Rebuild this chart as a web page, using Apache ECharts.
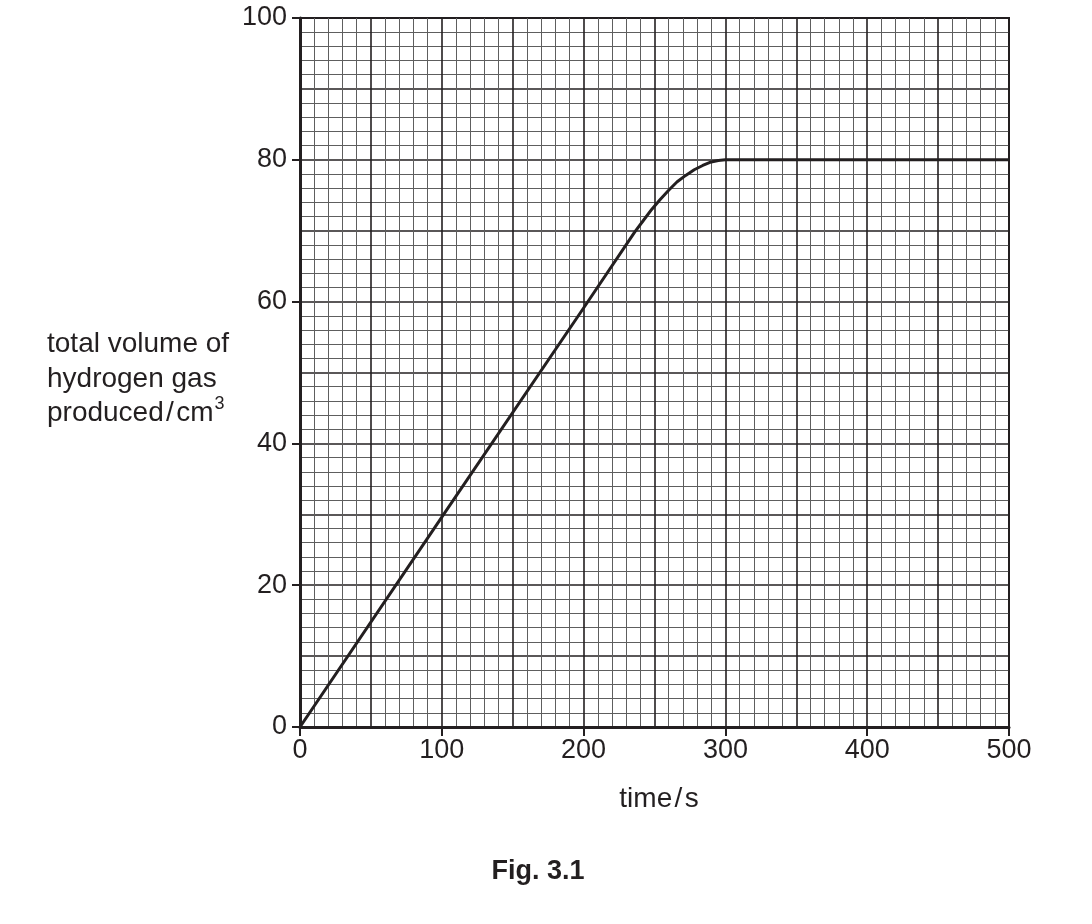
<!DOCTYPE html>
<html>
<head>
<meta charset="utf-8">
<script src="https://cdn.jsdelivr.net/npm/echarts@6/dist/echarts.min.js"></script>
<style>
html,body{margin:0;padding:0;background:#fff;}
#c{width:1092px;height:924px;}
</style>
</head>
<body>
<div id="c"></div>
<script>
// Data
var timeS = [0, 100, 200, 236, 242, 248, 254, 260, 266, 272, 278, 284, 290, 295, 300, 400, 500];
var volumeCm3 = [0, 29.6, 59.1, 69.8, 71.4, 73.0, 74.4, 75.7, 76.9, 77.8, 78.6, 79.2, 79.7, 79.9, 80, 80, 80];
var xTickLabels = [0, 100, 200, 300, 400, 500];
var yTickLabels = [0, 20, 40, 60, 80, 100];
var yTitleLines = ['total volume of', 'hydrogen gas', 'produced\u200a/\u200acm'];
var yTitleSup = '3';
var xTitle = 'time\u200a/\u200as';
var caption = 'Fig. 3.1';

var ink = '#231f20';
var font = '"Liberation Sans", Arial, Helvetica, sans-serif';

var pts = timeS.map(function (t, i) { return [t, volumeCm3[i]]; });

var chart = echarts.init(document.getElementById('c'), null, {renderer: 'canvas'});

var gridLeft = 300, gridTop = 18, gridW = 709, gridH = 709;

var option = {
  backgroundColor: '#fff',
  animation: false,
  grid: {left: gridLeft, top: gridTop, width: gridW, height: gridH, show: true, borderColor: ink, borderWidth: 2, backgroundColor: 'transparent'},
  xAxis: [{
    type: 'value', min: 0, max: 500, interval: 50, position: 'bottom',
    axisLine: {show: true, lineStyle: {color: ink, width: 3}},
    axisTick: {show: false}, axisLabel: {show: false},
    splitLine: {show: true, lineStyle: {color: ink, width: 1.6}},
    minorTick: {show: false, splitNumber: 5},
    minorSplitLine: {show: true, lineStyle: {color: '#5e5e5e', width: 1}}
  }, {
    type: 'value', min: 0, max: 500, interval: 100, position: 'bottom',
    axisLine: {show: false},
    axisTick: {show: true, inside: false, length: 9, lineStyle: {color: ink, width: 2}},
    axisLabel: {show: true, margin: 10, color: ink, fontSize: 27, fontFamily: font,
      formatter: function (v) { return xTickLabels.indexOf(v) >= 0 ? String(v) : ''; }},
    splitLine: {show: false}
  }],
  yAxis: [{
    type: 'value', min: 0, max: 100, interval: 10, position: 'left',
    axisLine: {show: true, lineStyle: {color: ink, width: 3}},
    axisTick: {show: false}, axisLabel: {show: false},
    splitLine: {show: true, lineStyle: {color: ink, width: 1.6}},
    minorTick: {show: false, splitNumber: 5},
    minorSplitLine: {show: true, lineStyle: {color: '#5e5e5e', width: 1}}
  }, {
    type: 'value', min: 0, max: 100, interval: 20, position: 'left',
    axisLine: {show: false},
    axisTick: {show: true, inside: false, length: 8, lineStyle: {color: ink, width: 2}},
    axisLabel: {show: true, margin: 13, color: ink, fontSize: 27, fontFamily: font,
      formatter: function (v) { return yTickLabels.indexOf(v) >= 0 ? String(v) : ''; }},
    splitLine: {show: false}
  }],
  series: [{
    type: 'line', xAxisIndex: 0, yAxisIndex: 0,
    data: pts, smooth: false, showSymbol: false, symbol: 'none',
    lineStyle: {color: ink, width: 3, join: 'round'}, z: 10, clip: false
  }],
  graphic: [
    {type: 'text', left: 47, top: 330, style: {text: yTitleLines[0], fill: ink, font: '28px ' + font}},
    {type: 'text', left: 47, top: 365, style: {text: yTitleLines[1], fill: ink, font: '28px ' + font}},
    {type: 'text', left: 47, top: 393, style: {
      text: '{a|' + yTitleLines[2] + '}{s|' + yTitleSup + '}',
      rich: {
        a: {fontSize: 28, fontFamily: font, fill: ink, color: ink, lineHeight: 34, verticalAlign: 'bottom'},
        s: {fontSize: 18, fontFamily: font, fill: ink, color: ink, lineHeight: 34, verticalAlign: 'top', padding: [2, 0, 0, 1]}
      }
    }},
    {type: 'text', x: 659, y: 799, style: {text: xTitle, fill: ink, font: '28px ' + font, textAlign: 'center', textVerticalAlign: 'middle'}},
    {type: 'text', x: 538, y: 872, style: {text: caption, fill: ink, font: 'bold 27px ' + font, textAlign: 'center', textVerticalAlign: 'middle'}}
  ]
};
chart.setOption(option);
</script>
</body>
</html>
